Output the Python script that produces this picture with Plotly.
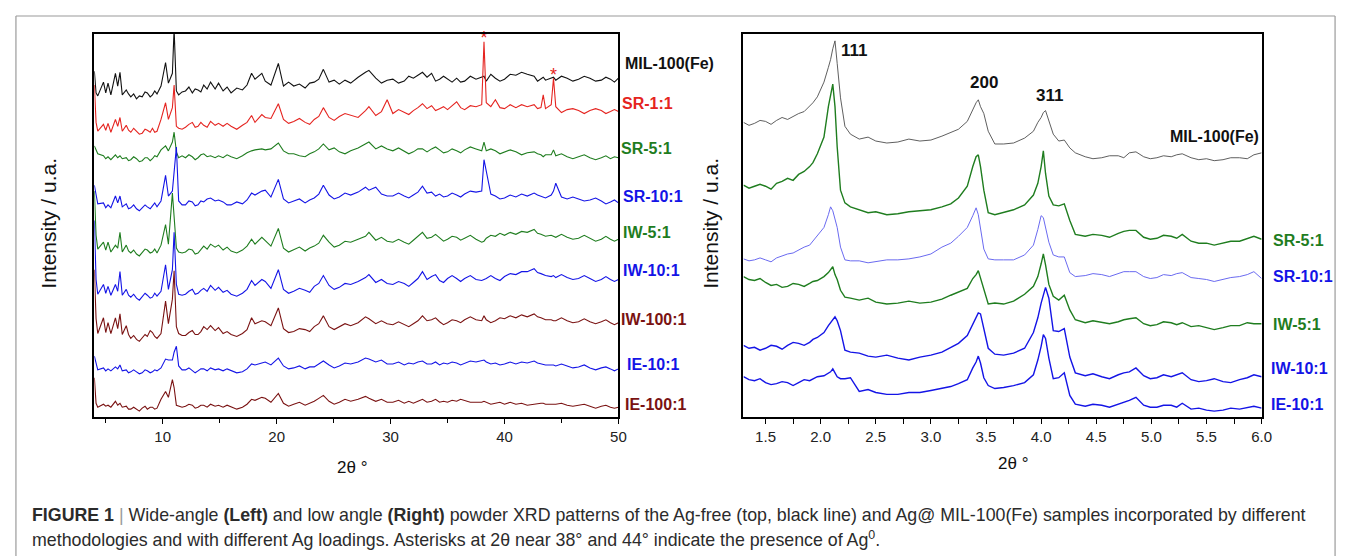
import plotly.graph_objects as go

W, H = 1346, 556
FONT = "Liberation Sans, Arial, Helvetica, sans-serif"

# ---------------- Wide-angle XRD (left panel) ----------------
two_theta_wide = [4.0, 4.15, 4.3, 4.8, 5.0, 5.2, 5.45, 5.85, 6.05, 6.25, 6.45, 6.8, 7.0,
                  7.2, 7.45, 7.7, 7.95, 8.2, 8.45, 8.65, 8.9, 9.1, 9.3, 9.5, 9.85, 10.25, 10.5, 10.85, 11.0, 11.2,
                  11.4, 11.7, 12.0, 12.3, 12.6, 12.85, 13.1, 13.35, 13.6, 13.9, 14.2, 14.6, 14.9, 15.3, 15.65, 16.0, 16.5, 17.0, 17.4,
                  17.8, 18.1, 18.7, 19.0, 19.5, 20.15, 20.6, 21.05, 21.5, 22.0, 22.5, 22.9, 23.3, 23.7, 24.1, 24.6,
                  25.05, 25.5, 26.0, 26.5, 27.15, 27.8, 28.1, 28.7, 29.2, 29.7, 30.2, 30.7, 31.2, 31.6, 32.0, 32.4, 32.8, 33.2, 33.6, 33.95, 34.3,
                  34.65, 35.0, 35.4, 35.8, 36.15, 36.5, 37.0, 37.5, 38.0, 38.2, 38.4, 38.8, 39.2, 39.6, 40.0, 40.5, 41.0, 41.5, 42.0, 42.6,
                  42.9, 43.2, 43.4, 43.6, 44.1, 44.3, 44.5, 45.0, 45.5, 46.0, 46.5, 47.0, 47.5, 48.0, 48.5, 48.9, 49.3, 49.65, 50.0]

# stacked intensities (a.u.)
wide_mil = [352, 330, 327, 341, 330, 340, 328, 350, 337, 351, 328, 333, 329,
            326, 329, 324, 327, 326, 331, 330, 326, 328, 332, 329, 337, 361, 340, 350, 395, 332,
            328, 331, 332, 336, 330, 334, 333, 331, 338, 334, 341, 334, 340, 332, 336, 330, 335, 333, 338,
            350, 344, 350, 342, 338, 360, 337, 341, 337, 339, 335, 340, 341, 344, 354, 341,
            343, 339, 343, 340, 346, 351, 353, 345, 340, 343, 344, 340, 342, 347, 345, 348, 351, 346, 350, 342, 344,
            347, 344, 341, 345, 341, 342, 347, 344, 346, 347, 342, 349, 345, 342, 344, 349, 348, 351, 349, 347,
            342, 344, 346, 343, 345, 346, 343, 347, 345, 342, 344, 347, 345, 342, 343, 346, 344, 341, 345]
wide_sr1 = [338, 300, 291, 298, 292, 299, 290, 303, 296, 305, 291, 297, 292,
            290, 294, 291, 288, 289, 293, 292, 290, 294, 290, 291, 303, 320, 303, 315, 338, 296,
            294, 293, 295, 298, 300, 295, 296, 300, 297, 295, 301, 297, 299, 296, 299, 296, 293, 297, 300,
            307, 300, 308, 305, 304, 319, 303, 299, 301, 304, 300, 298, 303, 306, 315, 305,
            302, 306, 309, 307, 305, 312, 316, 307, 311, 323, 309, 313, 310, 308, 312, 315, 319, 314, 317, 312, 314,
            316, 313, 317, 321, 315, 313, 317, 316, 318, 382, 320, 316, 323, 315, 314, 318, 315, 318, 316, 318,
            314, 315, 328, 314, 318, 345, 316, 310, 313, 314, 312, 309, 312, 314, 312, 309, 311, 313, 311]
wide_sr5 = [276, 272, 268, 266, 263, 265, 262, 267, 264, 266, 263, 264, 261,
            262, 265, 263, 260, 261, 264, 264, 261, 263, 266, 265, 272, 276, 271, 280, 290, 270,
            264, 266, 264, 267, 265, 262, 264, 267, 268, 265, 266, 264, 266, 264, 267, 265, 263, 266, 269,
            271, 272, 273, 272, 273, 279, 271, 268, 268, 266, 265, 268, 270, 273, 278, 272,
            274, 270, 268, 271, 274, 278, 280, 273, 276, 273, 271, 274, 271, 268, 270, 273, 273, 270, 273, 275, 272,
            269, 270, 273, 271, 269, 272, 275, 273, 271, 280, 271, 273, 271, 268, 270, 272, 270, 267, 269, 270,
            268, 267, 265, 267, 267, 272, 266, 268, 265, 263, 265, 267, 264, 262, 264, 266, 263, 265, 264]
wide_sr10 = [236, 225, 217, 218, 213, 216, 213, 225, 218, 225, 214, 217, 212,
             213, 216, 212, 210, 213, 216, 214, 212, 215, 218, 214, 220, 246, 225, 230, 250, 275,
             220, 216, 216, 220, 219, 215, 216, 220, 219, 222, 223, 220, 221, 219, 216, 216, 219, 217, 221,
             228, 226, 230, 231, 224, 242, 222, 218, 220, 222, 218, 221, 223, 227, 236, 226,
             222, 224, 228, 226, 229, 234, 231, 234, 227, 225, 225, 228, 225, 223, 226, 229, 235, 228, 229, 225, 227,
             224, 225, 228, 226, 224, 227, 230, 229, 230, 262, 250, 227, 225, 222, 223, 226, 224, 227, 225, 228,
             226, 225, 224, 223, 226, 230, 238, 224, 222, 224, 222, 220, 221, 223, 220, 217, 219, 221, 218]
wide_iw5 = [230, 185, 171, 178, 170, 178, 168, 175, 172, 188, 168, 175, 169,
            167, 170, 166, 164, 167, 171, 170, 167, 168, 171, 167, 175, 196, 176, 228, 205, 172,
            168, 167, 168, 171, 170, 166, 167, 171, 174, 171, 176, 173, 175, 170, 173, 169, 167, 170, 174,
            181, 176, 183, 180, 174, 192, 172, 168, 170, 173, 169, 172, 174, 177, 185, 178,
            173, 175, 179, 178, 181, 184, 188, 180, 183, 179, 178, 181, 178, 176, 180, 184, 188, 182, 183, 186, 182,
            179, 181, 184, 183, 180, 182, 185, 181, 178, 179, 182, 185, 184, 187, 185, 188, 186, 189, 188, 191,
            187, 186, 185, 184, 185, 184, 183, 186, 183, 181, 182, 185, 182, 179, 181, 184, 181, 179, 181]
wide_iw10 = [200, 140, 125, 135, 126, 133, 124, 135, 128, 148, 124, 130, 124,
             122, 125, 121, 119, 122, 126, 124, 121, 122, 126, 123, 128, 155, 130, 150, 188, 135,
             125, 124, 125, 128, 130, 125, 126, 129, 131, 128, 134, 129, 132, 127, 129, 125, 123, 126, 130,
             139, 134, 140, 138, 131, 150, 130, 126, 128, 131, 129, 127, 133, 136, 144, 134,
             130, 132, 136, 135, 138, 142, 145, 137, 140, 136, 135, 138, 136, 133, 137, 141, 148, 140, 143, 145, 139,
             137, 141, 144, 141, 138, 141, 144, 140, 139, 140, 141, 144, 141, 139, 143, 146, 145, 148, 148, 151,
             147, 146, 145, 144, 143, 144, 142, 145, 142, 140, 141, 144, 141, 138, 140, 143, 140, 138, 140]
wide_iw100 = [150, 100, 85, 101, 86, 96, 85, 101, 90, 105, 84, 93, 84,
              80, 83, 79, 77, 80, 84, 82, 88, 86, 82, 80, 85, 118, 95, 120, 149, 92,
              85, 83, 83, 86, 88, 84, 84, 87, 92, 89, 93, 88, 91, 85, 87, 84, 82, 85, 89,
              101, 95, 98, 97, 93, 111, 90, 86, 87, 90, 89, 87, 92, 95, 103, 92,
              89, 92, 95, 93, 96, 102, 100, 95, 98, 95, 94, 97, 94, 92, 95, 98, 103, 98, 99, 101, 97,
              94, 96, 99, 98, 96, 99, 102, 99, 98, 103, 99, 96, 98, 101, 100, 103, 101, 104, 102, 105,
              102, 101, 100, 99, 99, 98, 98, 101, 98, 96, 97, 100, 97, 95, 97, 99, 96, 94, 96]
wide_ie10 = [62, 55, 48, 50, 47, 49, 47, 51, 49, 53, 47, 48, 45,
             46, 48, 46, 44, 45, 48, 47, 45, 46, 48, 47, 50, 59, 58, 58, 66, 72,
             52, 48, 48, 50, 47, 45, 47, 49, 49, 47, 50, 48, 49, 47, 49, 47, 45, 46, 49,
             54, 53, 55, 56, 53, 60, 52, 49, 50, 52, 49, 51, 51, 54, 57, 53,
             50, 52, 55, 54, 56, 60, 59, 56, 58, 54, 54, 56, 53, 55, 54, 56, 57, 54, 54, 56, 53,
             55, 54, 56, 55, 53, 55, 57, 56, 57, 58, 56, 54, 55, 53, 54, 56, 54, 56, 55, 57,
             55, 54, 54, 53, 53, 53, 52, 54, 52, 50, 51, 53, 50, 48, 50, 51, 49, 47, 49]
wide_ie100 = [40, 14, 10, 13, 11, 12, 10, 16, 12, 14, 10, 11, 8,
              8, 10, 8, 6, 9, 11, 8, 10, 10, 8, 9, 18, 26, 20, 38, 30, 12,
              11, 10, 11, 13, 12, 9, 10, 12, 12, 10, 13, 11, 12, 10, 12, 10, 8, 10, 13,
              18, 17, 20, 19, 15, 24, 14, 11, 13, 15, 12, 14, 16, 19, 22, 16,
              13, 15, 18, 16, 18, 21, 19, 16, 18, 15, 15, 17, 14, 16, 14, 16, 18, 15, 16, 18, 15,
              16, 15, 17, 16, 18, 17, 15, 15, 15, 16, 15, 13, 14, 15, 13, 15, 13, 14, 12, 13,
              14, 14, 14, 13, 13, 13, 13, 14, 12, 11, 12, 13, 11, 9, 11, 12, 10, 9, 10]

wide_ticks = [10, 20, 30, 40, 50]
wide_minor = [5, 15, 25, 35, 45]
wide_labels = ["MIL-100(Fe)", "SR-1:1", "SR-5:1", "SR-10:1", "IW-5:1",
               "IW-10:1", "IW-100:1", "IE-10:1", "IE-100:1"]
ag_peaks = [38.2, 44.3]          # 2θ of the Ag0 reflections marked with asterisks

# ---------------- Low-angle XRD (right panel) ----------------
two_theta_low = [1.3, 1.35, 1.4, 1.45, 1.5, 1.55, 1.6, 1.65, 1.7, 1.75, 1.8, 1.85, 1.9, 1.93, 1.97, 2.03, 2.07,
                 2.09, 2.11, 2.13, 2.15, 2.18, 2.22, 2.27, 2.35, 2.43, 2.5, 2.6, 2.7, 2.8, 2.9, 3.0, 3.1, 3.18, 3.25,
                 3.33, 3.38, 3.41, 3.43, 3.45, 3.48, 3.52, 3.58, 3.66, 3.75, 3.85, 3.93, 3.97, 4.0, 4.02, 4.04, 4.07,
                 4.11, 4.16, 4.21, 4.26, 4.31, 4.4, 4.47, 4.55, 4.62, 4.7, 4.75, 4.8, 4.86, 4.93, 4.99, 5.05,
                 5.11, 5.18, 5.23, 5.28, 5.36, 5.43, 5.5, 5.57, 5.65, 5.72, 5.8, 5.87, 5.93, 6.0]

low_mil = [300, 297, 299, 302, 301, 298, 302, 305, 303, 306, 309, 311, 317, 320, 326, 341, 356,
           364, 375, 383, 360, 325, 296, 288, 283, 285, 281, 279, 280, 283, 281, 282, 286, 290, 293,
           301, 313, 320, 323, 316, 309, 291, 278, 278, 279, 284, 291, 300, 305, 310, 312, 302,
           288, 281, 282, 274, 269, 265, 263, 264, 266, 266, 264, 269, 270, 265, 263, 264,
           266, 265, 267, 268, 264, 262, 263, 261, 262, 264, 264, 263, 267, 269]
low_sr5 = [236, 233, 235, 237, 235, 232, 238, 240, 243, 241, 247, 250, 255, 259, 268, 285, 316,
           326, 339, 316, 275, 231, 218, 214, 211, 208, 209, 206, 207, 209, 210, 211, 214, 217, 223,
           235, 255, 265, 267, 255, 231, 208, 206, 208, 211, 216, 226, 238, 255, 271, 248, 225,
           216, 215, 217, 200, 186, 184, 186, 185, 183, 187, 189, 190, 190, 183, 181, 182,
           185, 184, 182, 186, 179, 177, 177, 175, 177, 179, 179, 182, 184, 181]
low_sr10 = [161, 159, 160, 162, 160, 158, 162, 164, 166, 167, 170, 173, 175, 179, 184, 193, 206,
            214, 210, 201, 193, 173, 160, 159, 159, 157, 158, 160, 160, 161, 163, 166, 173, 177, 184,
            193, 205, 213, 206, 190, 171, 161, 160, 160, 160, 165, 175, 191, 205, 203, 193, 178,
            165, 163, 163, 147, 143, 144, 146, 145, 143, 146, 148, 148, 148, 143, 141, 142,
            145, 144, 146, 147, 142, 141, 140, 138, 140, 142, 143, 145, 148, 141]
low_iw5 = [143, 140, 139, 141, 137, 134, 135, 132, 133, 136, 135, 133, 136, 138, 139, 143, 147,
           150, 153, 145, 140, 129, 122, 121, 119, 121, 117, 115, 116, 118, 116, 117, 120, 124, 127,
           131, 141, 145, 149, 141, 130, 115, 116, 115, 118, 125, 133, 143, 156, 166, 155, 135,
           123, 119, 124, 109, 99, 96, 98, 96, 95, 97, 99, 100, 101, 95, 93, 94,
           97, 96, 94, 96, 92, 93, 91, 89, 91, 93, 93, 96, 95, 95]
low_iw10 = [73, 70, 71, 68, 70, 73, 72, 69, 73, 76, 75, 73, 76, 79, 81, 86, 93,
            96, 99, 102, 98, 88, 68, 66, 65, 62, 61, 63, 60, 58, 61, 63, 66, 71, 75,
            83, 95, 102, 106, 105, 90, 70, 64, 63, 65, 70, 86, 101, 116, 125, 132, 121,
            88, 87, 90, 61, 45, 42, 44, 41, 39, 43, 45, 46, 50, 42, 39, 40,
            43, 41, 43, 45, 38, 36, 37, 39, 36, 35, 38, 40, 43, 41]
low_ie10 = [41, 38, 37, 39, 35, 33, 34, 36, 35, 32, 35, 38, 37, 39, 41, 42, 45,
            46, 49, 45, 41, 39, 39, 40, 26, 28, 25, 23, 23, 25, 25, 27, 29, 31, 34,
            38, 50, 56, 62, 55, 40, 32, 29, 30, 32, 35, 43, 58, 72, 84, 80, 60,
            39, 40, 45, 22, 13, 11, 13, 12, 10, 13, 15, 17, 20, 12, 10, 10,
            12, 12, 10, 14, 8, 9, 7, 6, 7, 9, 8, 10, 11, 9]

low_ticks = [1.5, 2.0, 2.5, 3.0, 3.5, 4.0, 4.5, 5.0, 5.5, 6.0]
low_minor = [1.75, 2.25, 2.75, 3.25, 3.75, 4.25, 4.75, 5.25, 5.75]
low_labels = ["MIL-100(Fe)", "SR-5:1", "SR-10:1", "IW-5:1", "IW-10:1", "IE-10:1"]
miller = ["111", "200", "311"]

# ---------------- styling ----------------
BLACK = "#111111"
RED = "#e52420"
GREEN = "#1f7d1f"
BLUE = "#1414e6"
MAROON = "#7a1212"
GRAY = "#4d4d4d"
LIGHTBLUE = "#6a6af0"

BOX_TOP, BOX_BOTTOM = 26, 409
AST_GAP = 2   # gap (a.u.) between a marked peak top and its asterisk


def px(x):
    return x / W


def py(y):
    return 1 - y / H


fig = go.Figure()

wide_series = [
    (wide_mil, BLACK), (wide_sr1, RED), (wide_sr5, GREEN), (wide_sr10, BLUE),
    (wide_iw5, GREEN), (wide_iw10, BLUE), (wide_iw100, MAROON),
    (wide_ie10, BLUE), (wide_ie100, MAROON),
]
for (vals, col), name in zip(wide_series, wide_labels):
    if len(vals) != len(two_theta_wide):
        raise ValueError(f"{name}: {len(vals)} values vs {len(two_theta_wide)} angles")
    fig.add_trace(go.Scatter(x=two_theta_wide, y=vals, mode="lines", name=name,
                             line=dict(color=col, width=1.1), xaxis="x", yaxis="y",
                             showlegend=False, hoverinfo="skip"))

# asterisks above the Ag0 reflections of SR-1:1 (placed from the pattern itself)
ag_tops = [wide_sr1[two_theta_wide.index(t)] + AST_GAP for t in ag_peaks]
fig.add_trace(go.Scatter(x=ag_peaks, y=ag_tops, mode="text", text=["*", "*"],
                         textposition="middle center", cliponaxis=False,
                         textfont=dict(family=FONT, size=18, color=RED),
                         xaxis="x", yaxis="y", showlegend=False, hoverinfo="skip"))

low_series = [
    (low_mil, GRAY, 0.9), (low_sr5, GREEN, 1.4), (low_sr10, LIGHTBLUE, 1.0),
    (low_iw5, GREEN, 1.4), (low_iw10, BLUE, 1.4), (low_ie10, BLUE, 1.4),
]
for (vals, col, lw), name in zip(low_series, low_labels):
    if len(vals) != len(two_theta_low):
        raise ValueError(f"{name}: {len(vals)} values vs {len(two_theta_low)} angles")
    fig.add_trace(go.Scatter(x=two_theta_low, y=vals, mode="lines", name=name,
                             line=dict(color=col, width=lw), xaxis="x2", yaxis="y2",
                             showlegend=False, hoverinfo="skip"))

common = dict(showline=True, mirror=True, linecolor="black", linewidth=1.5,
              showgrid=False, zeroline=False)
tickfont = dict(family=FONT, size=15, color="#222222")

fig.update_layout(
    width=W, height=H, autosize=False,
    margin=dict(l=0, r=0, t=0, b=0),
    paper_bgcolor="white", plot_bgcolor="white",
    xaxis=dict(domain=[px(87), px(615)], range=[4, 50], anchor="y",
               tickmode="array", tickvals=wide_ticks,
               ticktext=[str(t) for t in wide_ticks],
               ticks="outside", ticklen=5, tickwidth=1.2, tickcolor="black",
               tickfont=tickfont,
               minor=dict(tickmode="array", tickvals=wide_minor, ticks="outside",
                          ticklen=4, tickwidth=1.2, tickcolor="black"),
               **common),
    yaxis=dict(domain=[py(BOX_BOTTOM), py(BOX_TOP)], range=[0, 390], anchor="x",
               showticklabels=False, ticks="", **common),
    xaxis2=dict(domain=[px(741), px(1263)], range=[1.3, 6.0], anchor="y2",
                tickmode="array", tickvals=low_ticks,
                ticktext=[f"{t:.1f}" for t in low_ticks],
                ticks="outside", ticklen=5, tickwidth=1.2, tickcolor="black",
                tickfont=tickfont,
                minor=dict(tickmode="array", tickvals=low_minor, ticks="outside",
                           ticklen=5, tickwidth=1.2, tickcolor="black"),
                **common),
    yaxis2=dict(domain=[py(BOX_BOTTOM), py(BOX_TOP)], range=[0, 390], anchor="x2",
                showticklabels=False, ticks="", **common),
)

ann = []

# left-panel sample labels
wide_label_pos = [(620, 55, BLACK), (617, 95, RED), (616, 140, GREEN), (618, 188, BLUE),
                  (618, 225, GREEN), (618, 263, BLUE), (616, 311, MAROON),
                  (622, 356, BLUE), (620, 396, MAROON)]
for text, (x, y, col) in zip(wide_labels, wide_label_pos):
    ann.append(dict(x=px(x), y=py(y), xref="paper", yref="paper", text=f"<b>{text}</b>",
                    showarrow=False, xanchor="left", yanchor="middle",
                    font=dict(family=FONT, size=16, color=col)))

# right-panel labels
low_label_pos = [(1216, 128, BLACK, "center"), (1272, 232, GREEN, "left"),
                 (1272, 268, BLUE, "left"), (1272, 316, GREEN, "left"),
                 (1270, 360, BLUE, "left"), (1270, 396, BLUE, "left")]
for text, (x, y, col, anc) in zip(low_labels, low_label_pos):
    ann.append(dict(x=px(x), y=py(y), xref="paper", yref="paper", text=f"<b>{text}</b>",
                    showarrow=False, xanchor=anc, yanchor="middle",
                    font=dict(family=FONT, size=16, color=col)))

miller_pos = [(853, 43), (983, 74), (1049, 87)]
for text, (x, y) in zip(miller, miller_pos):
    ann.append(dict(x=px(x), y=py(y), xref="paper", yref="paper", text=f"<b>{text}</b>",
                    showarrow=False, xanchor="center", yanchor="middle",
                    font=dict(family=FONT, size=17, color=BLACK)))

# axis titles
for x, y in [(347, 459), (1013, 455)]:
    ann.append(dict(x=px(x), y=py(y), xref="paper", yref="paper", text="2θ °",
                    showarrow=False, xanchor="center", yanchor="middle",
                    font=dict(family=FONT, size=17, color="#111111")))
for x in [40, 707]:
    ann.append(dict(x=px(x), y=py(215), xref="paper", yref="paper",
                    text="Intensity / u.a.", textangle=-90, showarrow=False,
                    xanchor="center", yanchor="middle",
                    font=dict(family=FONT, size=21, color="#111111")))

# caption
cap1 = ("<b>FIGURE 1</b> <span style='color:#9a9a9a'>|</span> Wide-angle <b>(Left)</b> and low angle "
        "<b>(Right)</b> powder XRD patterns of the Ag-free (top, black line) and Ag@ MIL-100(Fe) "
        "samples incorporated by different")
cap2 = ("methodologies and with different Ag loadings. Asterisks at 2θ near 38° and 44° "
        "indicate the presence of Ag<sup>0</sup>.")
for text, y in [(cap1, 507), (cap2, 531)]:
    ann.append(dict(x=px(22), y=py(y), xref="paper", yref="paper", text=text,
                    showarrow=False, xanchor="left", yanchor="middle", align="left",
                    font=dict(family=FONT, size=17.8, color="#2b2b2b")))

fig.update_layout(annotations=ann)

# outer figure frame
frame = dict(type="line", xref="paper", yref="paper",
             line=dict(color="#9a9a9a", width=1.2))
fig.add_shape(x0=px(8), x1=px(1337), y0=py(8), y1=py(8), **frame)
fig.add_shape(x0=px(8), x1=px(8), y0=py(8), y1=py(560), **frame)
fig.add_shape(x0=px(1337), x1=px(1337), y0=py(8), y1=py(560), **frame)

fig.write_html("out.html")
